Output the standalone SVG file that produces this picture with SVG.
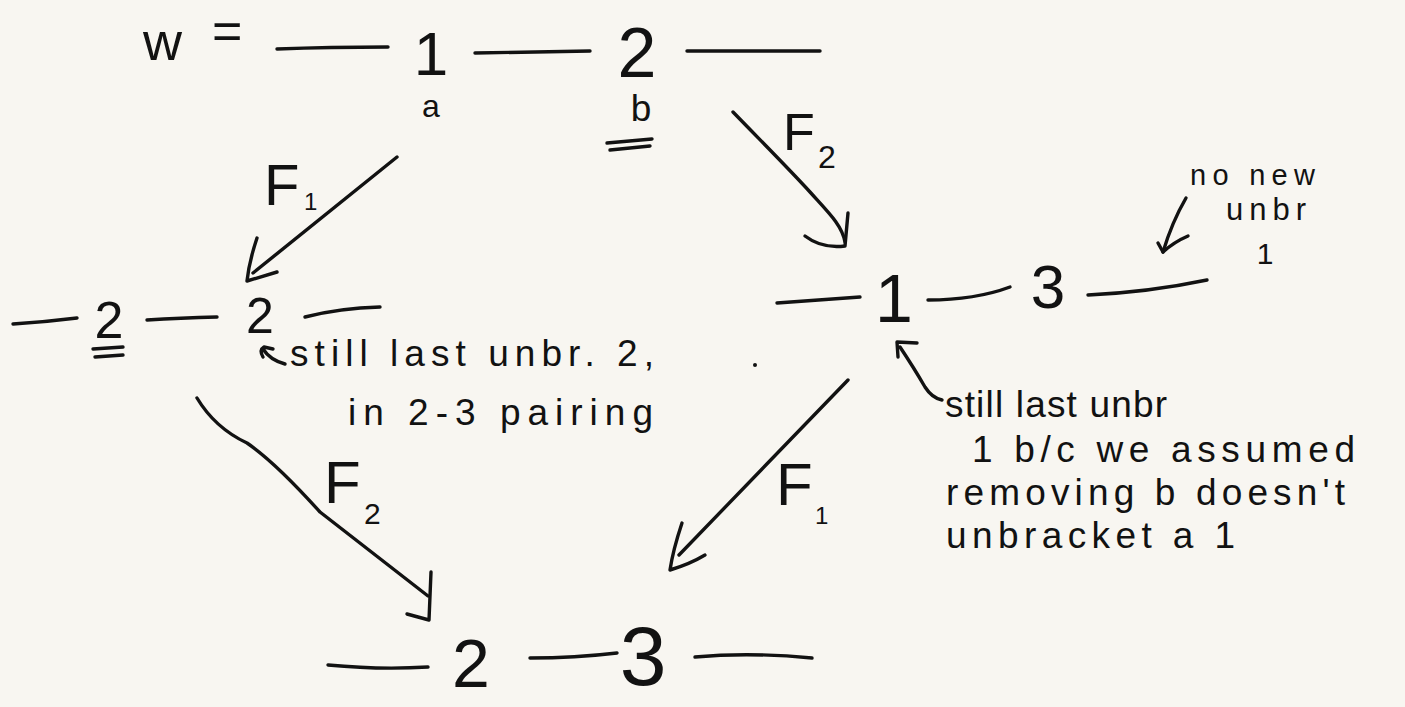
<svg xmlns="http://www.w3.org/2000/svg" width="1405" height="707" viewBox="0 0 1405 707">
  <style>
    .ink { fill: none; stroke: #121212; stroke-width: 3.4; stroke-linecap: round; stroke-linejoin: round; }
    .num { font-family: "Liberation Sans", Arial, sans-serif; fill: #121212; text-anchor: middle; }
    .lbl { font-family: "Liberation Sans", Arial, sans-serif; fill: #121212; }
    .note { font-family: "Liberation Sans", Arial, sans-serif; fill: #121212; }
  </style>
  <rect width="1405" height="707" fill="#f8f6f1"/>

  <!-- top word w -->
  <g id="node-w">
    <text class="lbl" x="143" y="60" font-size="54">w</text>
    <text class="lbl" x="212" y="49" font-size="52">=</text>
    <path class="ink" d="M277,49 Q330,47 388,47"/>
    <text class="num" x="431" y="75" font-size="62">1</text>
    <path class="ink" d="M475,53 Q530,52 590,51"/>
    <text class="num" x="637" y="77" font-size="70">2</text>
    <path class="ink" d="M687,51 L820,51"/>
    <text class="num" x="431" y="117" font-size="32">a</text>
    <text class="num" x="641" y="121" font-size="37">b</text>
    <path class="ink" d="M607,143 L652,139 M610,150 L650,146"/>
  </g>

  <!-- left row -->
  <g id="node-left">
    <path class="ink" d="M13,324 Q45,322 77,318"/>
    <text class="num" x="109" y="338" font-size="52">2</text>
    <path class="ink" d="M93,349 L123,347 M95,357 L123,355"/>
    <path class="ink" d="M147,320 Q180,318 217,317"/>
    <text class="num" x="260" y="333" font-size="50">2</text>
    <path class="ink" d="M305,317 Q340,308 380,307"/>
  </g>

  <!-- right row -->
  <g id="node-right">
    <path class="ink" d="M777,303 Q820,300 860,297"/>
    <text class="num" x="894" y="322" font-size="68">1</text>
    <path class="ink" d="M928,300 Q975,300 1010,287"/>
    <text class="num" x="1048" y="308" font-size="62">3</text>
    <path class="ink" d="M1088,295 Q1150,292 1207,280"/>
  </g>

  <!-- bottom row -->
  <g id="node-bottom">
    <path class="ink" d="M328,665 Q380,670 428,667"/>
    <text class="num" x="471" y="687" font-size="68">2</text>
    <path class="ink" d="M530,658 Q575,658 617,653"/>
    <text class="num" x="643" y="685" font-size="84">3</text>
    <path class="ink" d="M695,657 Q750,652 812,658"/>
  </g>

  <!-- notes -->
  <g id="note-left">
    <path class="ink" d="M263,357 Q259,350 264,347 L273,349 M263,349 Q270,360 285,364" stroke-width="2.6"/>
    <text class="note" x="290" y="366" font-size="37" textLength="364" lengthAdjust="spacing">still last unbr. 2,</text>
    <text class="note" x="348" y="425" font-size="37" textLength="305" lengthAdjust="spacing">in 2-3 pairing</text>
  </g>
  <g id="note-right">
    <text class="note" x="945" y="417" font-size="37" textLength="222" lengthAdjust="spacing">still last unbr</text>
    <text class="note" x="972" y="462" font-size="37" textLength="383" lengthAdjust="spacing">1 b/c we assumed</text>
    <text class="note" x="946" y="505" font-size="37" textLength="399" lengthAdjust="spacing">removing b doesn't</text>
    <text class="note" x="946" y="548" font-size="37" textLength="289" lengthAdjust="spacing">unbracket a 1</text>
  </g>
  <g id="note-top-right">
    <text class="note" x="1190" y="185" font-size="29" textLength="125" lengthAdjust="spacing">no new</text>
    <text class="note" x="1226" y="220" font-size="31" textLength="80" lengthAdjust="spacing">unbr</text>
    <text class="note" x="1265" y="264" font-size="30" text-anchor="middle">1</text>
  </g>

  <!-- labels -->
  <g id="labels">
    <text class="lbl" x="264" y="205" font-size="58">F</text>
    <text class="lbl" x="304" y="210" font-size="24">1</text>
    <text class="lbl" x="783" y="150" font-size="52">F</text>
    <text class="lbl" x="818" y="168" font-size="32">2</text>
    <text class="lbl" x="324" y="503" font-size="60">F</text>
    <text class="lbl" x="364" y="524" font-size="30">2</text>
    <text class="lbl" x="776" y="505" font-size="60">F</text>
    <text class="lbl" x="815" y="524" font-size="24">1</text>
  </g>

  <!-- connectors -->
  <g id="connectors">
    <path class="ink" d="M397,157 L253,273"/>
    <path class="ink" d="M257,238 Q249,262 247,281 L277,272"/>

    <path class="ink" d="M733,112 C765,145 790,170 810,192 C828,212 842,225 845,242"/>
    <path class="ink" d="M805,236 Q822,249 845,246 L848,213"/>

    <path class="ink" d="M197,398 Q215,428 247,443 Q275,462 320,512 L428,596"/>
    <path class="ink" d="M431,572 L429,620 M407,614 L429,620"/>

    <path class="ink" d="M848,380 L679,555"/>
    <path class="ink" d="M682,523 Q673,550 670,570 Q690,564 705,555"/>

    <path class="ink" d="M900,347 Q914,368 925,387 Q932,398 942,400"/>
    <path class="ink" d="M917,343 L897,342 L898,357"/>

    <path class="ink" d="M1186,198 Q1172,222 1163,252"/>
    <path class="ink" d="M1188,236 Q1174,242 1163,252 L1158,243"/>

    <circle cx="755" cy="365" r="2" fill="#121212"/>
  </g>
</svg>
